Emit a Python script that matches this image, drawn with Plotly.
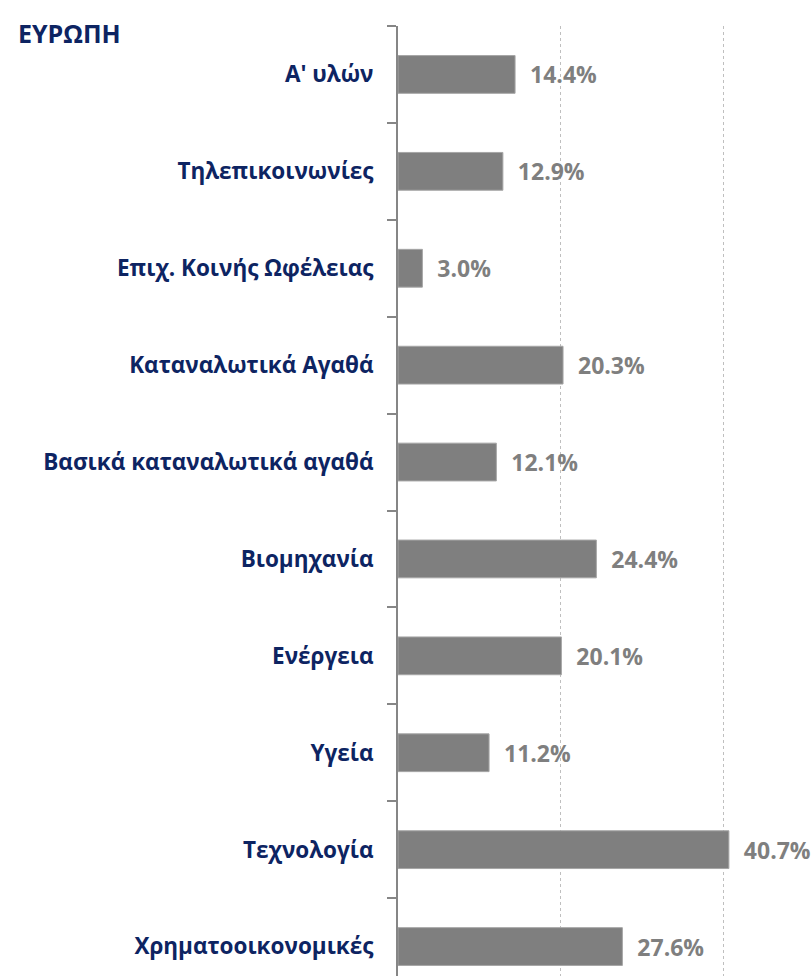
import plotly.graph_objects as go

categories = ["Α' υλών", "Τηλεπικοινωνίες", "Επιχ. Κοινής Ωφέλειας", "Καταναλωτικά Αγαθά",
              "Βασικά καταναλωτικά αγαθά", "Βιομηχανία", "Ενέργεια", "Υγεία",
              "Τεχνολογία", "Χρηματοοικονομικές"]
values = [14.4, 12.9, 3.0, 20.3, 12.1, 24.4, 20.1, 11.2, 40.7, 27.6]
title_text = "ΕΥΡΩΠΗ"

NAVY = "#0d2462"
GRAY = "#7f7f7f"
FONT = "Open Sans"

fig = go.Figure(go.Bar(
    x=values, y=categories, orientation="h",
    marker=dict(color=GRAY, line=dict(color="#a6a6a6", width=1)),
    width=0.39,
    texttemplate="\u00a0\u00a0%{x:.1f}%", textposition="outside",
    textfont=dict(family=FONT, size=23, color=GRAY, weight="bold"),
    cliponaxis=False,
))

fig.update_layout(
    width=811, height=976,
    margin=dict(l=398, r=0, t=26, b=0),
    plot_bgcolor="white", paper_bgcolor="white",
    showlegend=False,
    title=dict(text=title_text, x=18/811, xanchor="left", xref="container",
               y=1-34/976, yanchor="middle", yref="container",
               font=dict(family=FONT, size=25, color=NAVY, weight="bold")),
    xaxis=dict(range=[0, 50.8], dtick=20, showgrid=True, gridcolor="#bfbfbf",
               griddash="dot", gridwidth=1, zeroline=False, showticklabels=False,
               showline=False, ticks=""),
    yaxis=dict(categoryorder="array", categoryarray=categories,
               range=[9.304, -0.5], showline=True, linecolor="#868686", linewidth=2,
               ticks="outside", tickson="boundaries", ticklen=9, tickcolor="#868686",
               tickwidth=2, ticklabelstandoff=18,
               tickfont=dict(family=FONT, size=22.5, color=NAVY, weight="bold"),
               showgrid=False, zeroline=False),
)

fig.write_html("out.html", config={"displayModeBar": False},
               post_script="document.body.style.margin='0';document.body.style.overflow='hidden';")
